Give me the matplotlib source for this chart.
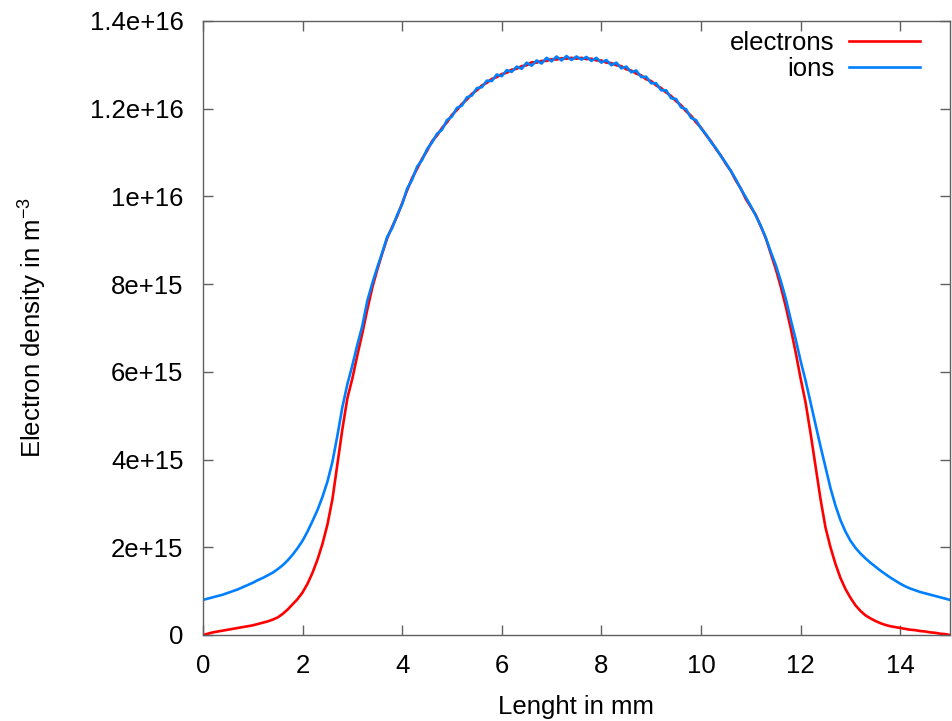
import numpy as np
import matplotlib
matplotlib.use("Agg")
import matplotlib.pyplot as plt

plt.rcParams['font.family'] = ['Liberation Sans', 'DejaVu Sans']
plt.rcParams['mathtext.default'] = 'regular'

# densities in units of 1e15 m^-3, sampled every 0.1 mm from 0 to 15 mm
scale = 1e15
length = np.linspace(0, 15, 151)

electrons = [
    0.00, 0.03, 0.06, 0.08, 0.10, 0.12, 0.14, 0.16, 0.18, 0.20,
    0.22, 0.25, 0.28, 0.31, 0.35, 0.40, 0.48, 0.58, 0.70, 0.82,
    0.97, 1.17, 1.42, 1.72, 2.08, 2.52, 3.10, 3.90, 4.70, 5.40,
    5.85, 6.38, 6.88, 7.42, 7.92, 8.33, 8.70, 9.05, 9.31, 9.55,
    9.85, 10.14, 10.42, 10.63, 10.86, 11.04, 11.26, 11.39, 11.56, 11.69,
    11.86, 11.97, 12.11, 12.21, 12.34, 12.42, 12.53, 12.59, 12.68, 12.72,
    12.79, 12.82, 12.89, 12.91, 12.97, 12.99, 13.06, 13.05, 13.09, 13.09,
    13.13, 13.12, 13.15, 13.14, 13.16, 13.14, 13.16, 13.13, 13.14, 13.10,
    13.10, 13.05, 13.04, 12.99, 12.97, 12.90, 12.87, 12.80, 12.76, 12.67,
    12.63, 12.53, 12.47, 12.37, 12.29, 12.17, 12.08, 11.94, 11.84, 11.69,
    11.57, 11.40, 11.26, 11.08, 10.93, 10.74, 10.58, 10.36, 10.18, 9.94,
    9.76, 9.58, 9.32, 9.05, 8.70, 8.35, 7.95, 7.50, 7.00, 6.45,
    5.85, 5.30, 4.60, 3.85, 3.10, 2.45, 2.00, 1.62, 1.30, 1.05,
    0.85, 0.68, 0.55, 0.45, 0.38, 0.32, 0.27, 0.23, 0.20, 0.18,
    0.16, 0.14, 0.12, 0.11, 0.09, 0.08, 0.06, 0.05, 0.03, 0.02,
    0.00,
]

ions = [
    0.80, 0.83, 0.86, 0.89, 0.92, 0.96, 1.00, 1.04, 1.09, 1.14,
    1.19, 1.25, 1.30, 1.36, 1.42, 1.50, 1.59, 1.70, 1.83, 1.98,
    2.15, 2.36, 2.60, 2.85, 3.15, 3.50, 3.95, 4.55, 5.20, 5.72,
    6.15, 6.62, 7.05, 7.62, 8.02, 8.38, 8.72, 9.08, 9.28, 9.58,
    9.82, 10.18, 10.38, 10.68, 10.83, 11.08, 11.23, 11.43, 11.52, 11.74,
    11.82, 12.02, 12.07, 12.26, 12.30, 12.47, 12.49, 12.64, 12.63, 12.78,
    12.74, 12.88, 12.84, 12.96, 12.91, 13.05, 12.98, 13.10, 13.03, 13.16,
    13.08, 13.19, 13.10, 13.20, 13.11, 13.19, 13.12, 13.18, 13.09, 13.16,
    13.05, 13.11, 12.99, 13.05, 12.92, 12.96, 12.83, 12.87, 12.72, 12.73,
    12.58, 12.58, 12.42, 12.42, 12.24, 12.22, 12.03, 11.99, 11.79, 11.74,
    11.55, 11.42, 11.24, 11.10, 10.92, 10.76, 10.58, 10.39, 10.17, 9.98,
    9.78, 9.56, 9.33, 9.06, 8.74, 8.44, 8.08, 7.68, 7.20, 6.75,
    6.25, 5.80, 5.30, 4.80, 4.30, 3.82, 3.35, 2.95, 2.62, 2.36,
    2.15, 1.99, 1.86, 1.75, 1.65, 1.56, 1.47, 1.39, 1.31, 1.24,
    1.17, 1.11, 1.06, 1.02, 0.98, 0.95, 0.92, 0.89, 0.86, 0.83,
    0.80,
]

xticks = [0, 2, 4, 6, 8, 10, 12, 14]
yticks = [0, 2e15, 4e15, 6e15, 8e15, 1e16, 1.2e16, 1.4e16]
ytick_labels = ['0', '2e+15', '4e+15', '6e+15', '8e+15', '1e+16', '1.2e+16', '1.4e+16']

fig = plt.figure(figsize=(9.52, 7.21), dpi=100)
ax = fig.add_axes([0.2132, 0.1193, 0.7847, 0.8516])

ax.plot(length, np.array(electrons) * scale, color='#ff0000', lw=1.9, label='electrons')
ax.plot(length, np.array(ions) * scale, color='#0080ff', lw=1.9, label='ions')

ax.set_xlim(0, 15)
ax.set_ylim(0, 1.4e16)
ax.set_xticks(xticks)
ax.set_yticks(yticks)
ax.set_yticklabels(ytick_labels)

for s in ax.spines.values():
    s.set_color('#606060')
    s.set_linewidth(1)
ax.tick_params(direction='in', length=7, width=1, color='#606060',
               top=True, right=True, labelsize=18.5)
ax.tick_params(axis='x', pad=14)
ax.tick_params(axis='y', pad=14)

ax.set_xlabel('Lenght in mm', fontsize=18.5, labelpad=12)
ax.set_ylabel('Electron density in m$^{-3}$', fontsize=18.5, labelpad=29)

ax.legend(loc='upper right', bbox_to_anchor=(0.96, 0.984), frameon=False,
          markerfirst=False, fontsize=18.5, handlelength=2.75, handletextpad=0.6,
          borderpad=0, borderaxespad=0, labelspacing=0.1)

fig.savefig('out.png', dpi=100)
